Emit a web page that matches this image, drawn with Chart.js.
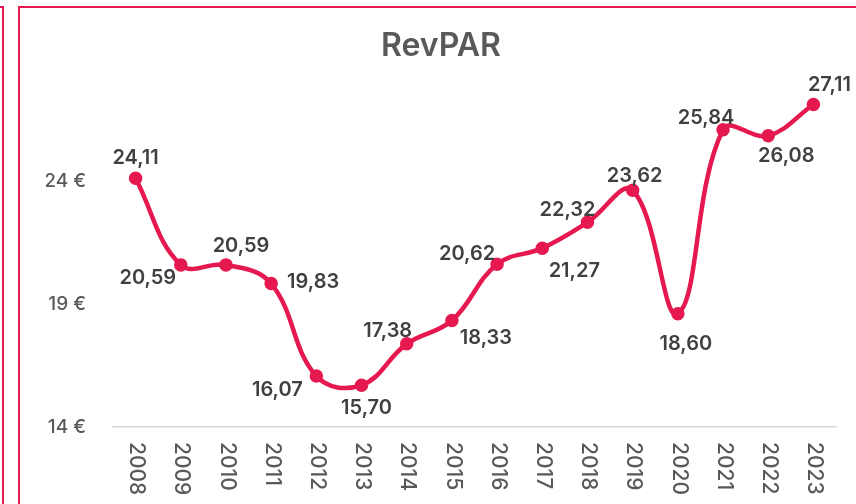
<!DOCTYPE html>
<html>
<head>
<meta charset="utf-8">
<script src="https://cdn.jsdelivr.net/npm/chart.js@4.4.1/dist/chart.umd.min.js"></script>
<style>
  html, body { margin: 0; padding: 0; background: #fff; overflow: hidden; }
  #wrap { position: relative; width: 856px; height: 504px; }
  .frame { position: absolute; border: 2px solid #e5194f; box-sizing: border-box; }
  #prev { left: -100px; top: 6px; width: 104px; height: 600px; }
  #main { left: 18px; top: 6px; width: 900px; height: 600px; }
  canvas { position: absolute; left: 0; top: 0; }
</style>
</head>
<body>
<div id="wrap">
  <div class="frame" id="prev"></div>
  <div class="frame" id="main"></div>
  <canvas id="chart" width="856" height="504"></canvas>
</div>
<script>
const years = ['2008', '2009', '2010', '2011', '2012', '2013', '2014', '2015',
  '2016', '2017', '2018', '2019', '2020', '2021', '2022', '2023'];
const revpar = [24.11, 20.59, 20.59, 19.83, 16.07, 15.70, 17.38, 18.33,
  20.62, 21.27, 22.32, 23.62, 18.60, 26.08, 25.84, 27.11];
// labels as printed on the chart
const valueLabels = ['24,11', '20,59', '20,59', '19,83', '16,07', '15,70', '17,38', '18,33',
  '20,62', '21,27', '22,32', '23,62', '18,60', '25,84', '26,08', '27,11'];
const yTicks = [14, 19, 24];

const pink = '#e5194f';
const fontFamily = 'Inter, "Open Sans", sans-serif';

// year labels rotated clockwise, read top to bottom
const yearLabels = {
  id: 'yearLabels',
  afterDraw(chart) {
    const ctx = chart.ctx;
    const x = chart.scales.x;
    ctx.save();
    ctx.font = '500 21px ' + fontFamily;
    ctx.fillStyle = '#595959';
    ctx.textAlign = 'left';
    ctx.textBaseline = 'middle';
    years.forEach((yr, i) => {
      ctx.save();
      ctx.translate(x.getPixelForValue(i) + 1, x.top + 15);
      ctx.rotate(Math.PI / 2);
      ctx.fillText(yr, 0, 0);
      ctx.restore();
    });
    ctx.restore();
  }
};

// data labels placed around each point
const pointLabels = {
  id: 'pointLabels',
  afterDatasetsDraw(chart, args, opts) {
    const ctx = chart.ctx;
    const meta = chart.getDatasetMeta(0);
    ctx.save();
    ctx.font = '600 20px ' + fontFamily;
    ctx.fillStyle = '#404040';
    ctx.textAlign = 'center';
    ctx.textBaseline = 'middle';
    meta.data.forEach((pt, i) => {
      const off = opts.offsets[i];
      ctx.fillText(valueLabels[i], pt.x + off[0], pt.y + off[1] + 1);
    });
    ctx.restore();
  }
};

new Chart(document.getElementById('chart'), {
  type: 'line',
  data: {
    labels: years,
    datasets: [{
      data: revpar,
      borderColor: pink,
      backgroundColor: pink,
      borderWidth: 4.5,
      tension: 0.4,
      pointRadius: 4.5,
      pointHoverRadius: 4.5,
      clip: false
    }]
  },
  options: {
    responsive: false,
    animation: false,
    layout: { padding: { left: 46, right: 20, top: 10, bottom: 0 } },
    plugins: {
      legend: { display: false },
      tooltip: { enabled: false },
      title: {
        display: true,
        text: 'RevPAR',
        color: '#595959',
        font: { family: fontFamily, size: 32, weight: '600', lineHeight: 0.75 },
        padding: { top: 24, bottom: 0 }
      },
      pointLabels: {
        offsets: [[0, -21], [-33, 12], [15, -20], [42, -3], [-39, 13], [5, 22],
          [-19, -14], [34, 17], [-30, -11], [32, 22], [-20, -13], [2, -15],
          [8, 29], [-17, -13], [18, 19], [16, -21]]
      }
    },
    scales: {
      x: {
        offset: true,
        grid: { display: false },
        border: { display: true, color: '#d9d9d9', width: 1.5 },
        ticks: { display: false },
        afterFit(scale) { scale.height = 77; }
      },
      y: {
        min: 14,
        max: 29,
        grid: { display: false, drawTicks: false },
        border: { display: false },
        afterBuildTicks(scale) { scale.ticks = yTicks.map(v => ({ value: v })); },
        afterFit(scale) { scale.width = 67; },
        ticks: {
          padding: 27,
          color: '#595959',
          font: { family: fontFamily, size: 19, weight: '500' },
          callback: v => v + ' €'
        }
      }
    }
  },
  plugins: [yearLabels, pointLabels]
});
</script>
</body>
</html>
